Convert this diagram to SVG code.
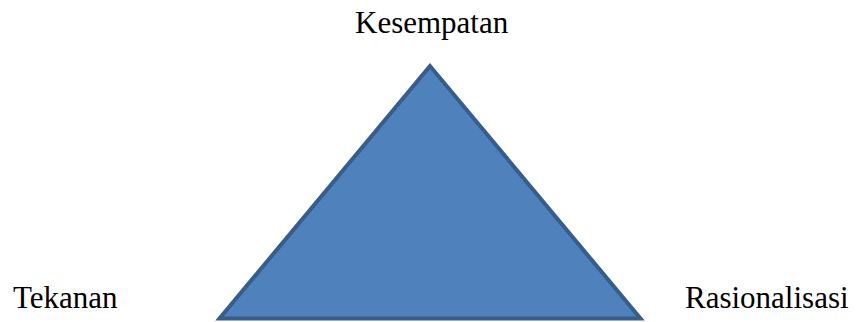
<svg xmlns="http://www.w3.org/2000/svg" width="856" height="322" viewBox="0 0 856 322">
<style>
.lbl{font-family:'Liberation Serif','DejaVu Serif',serif;font-size:31px;fill:#000}
.tri{fill:#4F81BD;stroke:#385D8A;stroke-width:4;stroke-linejoin:miter}
</style>
<rect width="856" height="322" fill="#fff"/>
<g id="triangle"><polygon class="tri" points="430,66 219.5,318.5 640.5,318.5"/></g>
<g id="kesempatan"><text class="lbl" x="355" y="33">Kesempatan</text></g>
<g id="tekanan"><text class="lbl" x="13" y="308">Tekanan</text></g>
<g id="rasionalisasi"><text class="lbl" x="685" y="308">Rasionalisasi</text></g>
<g id="connectors"></g>
</svg>
